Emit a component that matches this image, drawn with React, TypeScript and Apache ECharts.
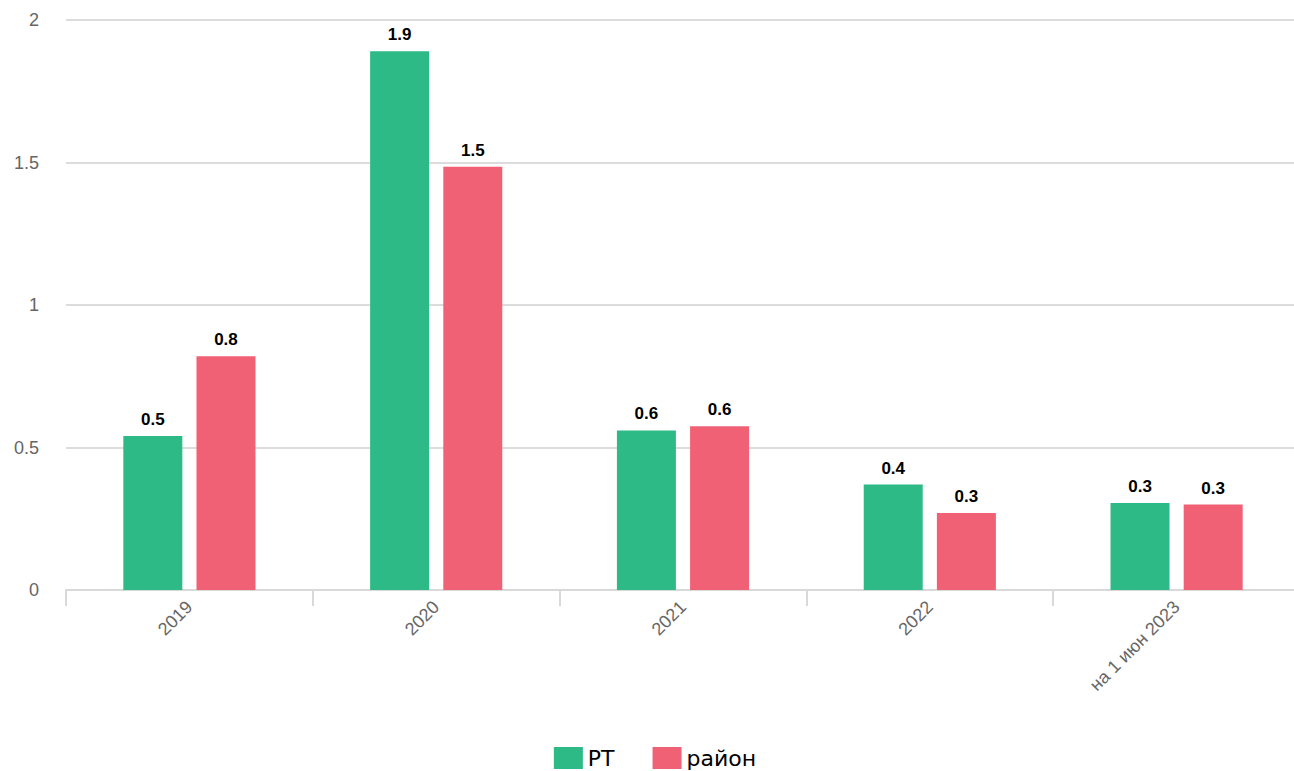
import React, { useEffect, useRef } from "react";
import * as echarts from "echarts";

const categories = ["2019", "2020", "2021", "2022", "на 1 июн 2023"];
const rtValues = [0.54, 1.89, 0.56, 0.37, 0.305];
const rayonValues = [0.82, 1.485, 0.575, 0.27, 0.3];
const seriesNames = ["РТ", "район"];
const colors = ["#2EBA87", "#F06176"];

export default function App() {
  const ref = useRef<HTMLDivElement>(null);
  useEffect(() => {
    if (!ref.current) return;
    const chart = echarts.init(ref.current, undefined, { renderer: "svg" });
    const labelCfg = {
      show: true,
      position: "top",
      distance: 8,
      color: "#000",
      fontWeight: "bold",
      fontSize: 17,
      fontFamily: "Liberation Sans, Arial, sans-serif",
      formatter: (p: any) => Number(p.value).toFixed(1),
    };
    chart.setOption({
      animation: false,
      color: colors,
      grid: { left: 66, right: 10, top: 20, bottom: 181, containLabel: false },
      legend: {
        top: 742,
        left: "center",
        itemWidth: 29,
        itemHeight: 22,
        itemGap: 38,
        icon: "rect",
        textStyle: { fontSize: 22, color: "#000", fontFamily: "DejaVu Sans, sans-serif" },
        data: seriesNames,
      },
      xAxis: {
        type: "category",
        data: categories,
        axisLine: { lineStyle: { color: "#d9d9d9", width: 2 } },
        axisTick: { show: true, length: 16, lineStyle: { color: "#d9d9d9", width: 2 } },
        axisLabel: {
          rotate: 45,
          color: "#666",
          fontSize: 18,
          margin: 14,
          fontFamily: "Liberation Sans, Arial, sans-serif",
        },
      },
      yAxis: {
        type: "value",
        min: 0,
        max: 2,
        interval: 0.5,
        axisLine: { show: false },
        axisTick: { show: false },
        splitLine: { lineStyle: { color: "#dcdcdc", width: 2 } },
        axisLabel: {
          color: "#666",
          fontSize: 18,
          margin: 27,
          fontFamily: "Liberation Sans, Arial, sans-serif",
        },
      },
      series: [
        {
          name: seriesNames[0],
          type: "bar",
          data: rtValues,
          barWidth: 59,
          barGap: "24%",
          label: labelCfg,
        },
        {
          name: seriesNames[1],
          type: "bar",
          data: rayonValues,
          barWidth: 59,
          barGap: "24%",
          label: labelCfg,
        },
      ],
    });
    return () => chart.dispose();
  }, []);
  return (
    <div style={{ position: "absolute", left: 0, top: 0, width: 1294, height: 771, overflow: "hidden" }}>
      <div ref={ref} style={{ width: 1310, height: 771 }} />
    </div>
  );
}
